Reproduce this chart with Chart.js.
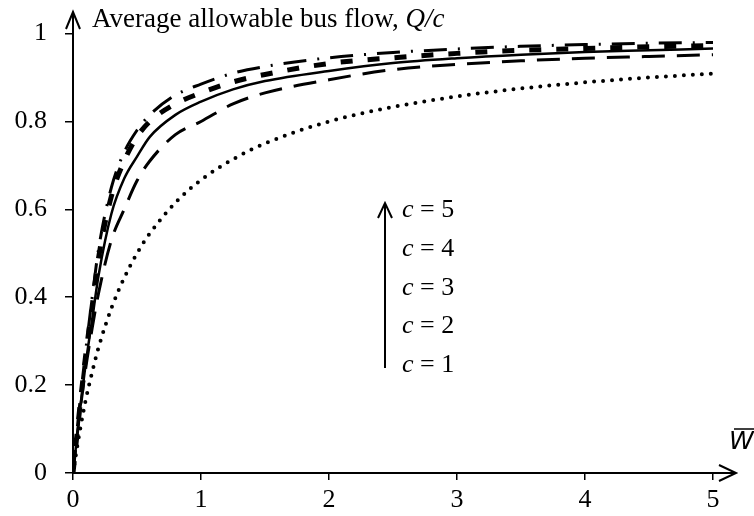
<!DOCTYPE html>
<html>
<head>
<meta charset="utf-8">
<script src="https://cdn.jsdelivr.net/npm/chart.js@4"></script>
<style>
  html, body { margin: 0; padding: 0; background: #fff; }
  #wrap { width: 754px; height: 516px; }
</style>
</head>
<body>
<div id="wrap"><canvas id="chart" width="754" height="516"></canvas></div>
<script>
// average waiting time (x axis)
const waitTimes = [0, 0.05, 0.1, 0.15, 0.2, 0.3, 0.4, 0.5, 0.6, 0.8, 1, 1.25, 1.5, 2, 2.5, 3, 3.5, 4, 4.5, 5];

// Q/c, one list per number of berths
const flowC1 = [0, 0.09, 0.167, 0.23, 0.286, 0.375, 0.444, 0.5, 0.545, 0.615, 0.667, 0.714, 0.75, 0.8, 0.833, 0.857, 0.875, 0.889, 0.9, 0.909];
const flowC2 = [0, 0.13, 0.24, 0.33, 0.41, 0.53, 0.6, 0.665, 0.71, 0.77, 0.8, 0.84, 0.865, 0.895, 0.918, 0.93, 0.938, 0.944, 0.948, 0.952];
const flowC3 = [0, 0.13, 0.25, 0.35, 0.45, 0.59, 0.67, 0.72, 0.765, 0.815, 0.845, 0.873, 0.892, 0.915, 0.933, 0.944, 0.952, 0.958, 0.962, 0.966];
const flowC4 = [0, 0.14, 0.27, 0.38, 0.49, 0.63, 0.71, 0.765, 0.8, 0.84, 0.865, 0.89, 0.907, 0.932, 0.945, 0.955, 0.962, 0.966, 0.97, 0.973];
const flowC5 = [0, 0.15, 0.28, 0.4, 0.51, 0.65, 0.73, 0.78, 0.815, 0.86, 0.885, 0.91, 0.925, 0.945, 0.957, 0.965, 0.971, 0.975, 0.978, 0.98];

const xTicks = [0, 1, 2, 3, 4, 5];
const yTicks = [0, 0.2, 0.4, 0.6, 0.8, 1];
const legendLabels = ['c = 5', 'c = 4', 'c = 3', 'c = 2', 'c = 1'];

const SERIF = '"Liberation Serif", "Times New Roman", serif';

function pts(ys) {
    return waitTimes.map((x, i) => ({ x: x, y: ys[i] }));
}

function line(ys, width, dash, color) {
    return {
        data: pts(ys),
        borderColor: color || '#000',
        borderWidth: width,
        borderDash: dash,
        borderCapStyle: dash.length === 2 && dash[0] === 0 ? 'round' : 'butt',
        pointRadius: 0,
        fill: false,
        cubicInterpolationMode: 'monotone'
    };
}

// axis arrows, axis titles and the c = 1..5 key
const decorations = {
    id: 'decorations',
    afterDraw(chart) {
        const ctx = chart.ctx;
        const xs = chart.scales.x, ys = chart.scales.y;
        const x0 = xs.getPixelForValue(0), y0 = ys.getPixelForValue(0);
        ctx.save();
        ctx.strokeStyle = '#000';
        ctx.fillStyle = '#000';
        ctx.lineWidth = 2;
        ctx.lineCap = 'butt';
        ctx.setLineDash([]);

        // y axis with arrow
        ctx.beginPath();
        ctx.moveTo(x0, y0);
        ctx.lineTo(x0, 13);
        ctx.moveTo(x0 - 7, 29);
        ctx.lineTo(x0, 12);
        ctx.lineTo(x0 + 7, 29);
        ctx.stroke();

        // x axis with arrow
        ctx.beginPath();
        ctx.moveTo(x0, y0);
        ctx.lineTo(735, y0);
        ctx.moveTo(719, y0 - 8);
        ctx.lineTo(736, y0);
        ctx.lineTo(719, y0 + 8);
        ctx.stroke();

        // y title
        ctx.textBaseline = 'alphabetic';
        ctx.textAlign = 'left';
        ctx.font = '27px ' + SERIF;
        const t1 = 'Average allowable bus flow, ';
        ctx.fillText(t1, 92, 27);
        const w1 = ctx.measureText(t1).width;
        ctx.font = 'italic 27px ' + SERIF;
        ctx.fillText('Q/c', 92 + w1, 27);

        // x title, W with a bar
        ctx.font = 'italic 25px "DejaVu Sans", sans-serif';
        ctx.fillText('W', 729, 449);
        const ww = ctx.measureText('W').width;
        ctx.lineWidth = 1.5;
        ctx.beginPath();
        ctx.moveTo(734, 429);
        ctx.lineTo(729 + ww + 1, 429);
        ctx.stroke();

        // key arrow
        ctx.lineWidth = 2;
        ctx.beginPath();
        ctx.moveTo(385, 368);
        ctx.lineTo(385, 204);
        ctx.moveTo(378, 218);
        ctx.lineTo(385, 203);
        ctx.lineTo(392, 218);
        ctx.stroke();

        legendLabels.forEach((lab, i) => {
            const y = 217 + i * 38.8;
            ctx.font = 'italic 26px ' + SERIF;
            ctx.fillText('c', 402, y);
            const cw = ctx.measureText('c').width;
            ctx.font = '26px ' + SERIF;
            ctx.fillText(lab.slice(1), 402 + cw, y);
        });
        ctx.restore();
    }
};

new Chart(document.getElementById('chart').getContext('2d'), {
    type: 'line',
    data: {
        datasets: [
            line(flowC1, 4, [0, 9]),
            line(flowC2, 3, [23, 12]),
            line(flowC3, 2.5, []),
            line(flowC4, 5, [12, 15]),
            line(flowC4, 2.4, [12, 15], '#fff'),
            line(flowC5, 3, [23, 11, 2, 11])
        ]
    },
    options: {
        responsive: false,
        animation: false,
        events: [],
        layout: { padding: { top: 32, right: 41, left: 0, bottom: 0 } },
        plugins: { legend: { display: false }, tooltip: { enabled: false } },
        scales: {
            x: {
                type: 'linear',
                min: 0,
                max: 5,
                afterBuildTicks: (s) => { s.ticks = xTicks.map(v => ({ value: v })); },
                afterFit: (s) => { s.height = 43; },
                border: { color: '#000', width: 2 },
                grid: { drawOnChartArea: false, drawTicks: true, tickLength: 7, color: '#000', lineWidth: 1.5 },
                ticks: { color: '#000', padding: 5, font: { family: SERIF, size: 26 }, maxRotation: 0 }
            },
            y: {
                type: 'linear',
                min: 0,
                max: 1,
                afterBuildTicks: (s) => { s.ticks = yTicks.map(v => ({ value: v })); },
                afterFit: (s) => { s.width = 73; },
                border: { color: '#000', width: 2 },
                grid: { drawOnChartArea: false, drawTicks: true, tickLength: 8, color: '#000', lineWidth: 1.5 },
                ticks: { color: '#000', padding: 18, font: { family: SERIF, size: 26 }, callback: v => String(v) }
            }
        }
    },
    plugins: [decorations]
});
</script>
</body>
</html>
